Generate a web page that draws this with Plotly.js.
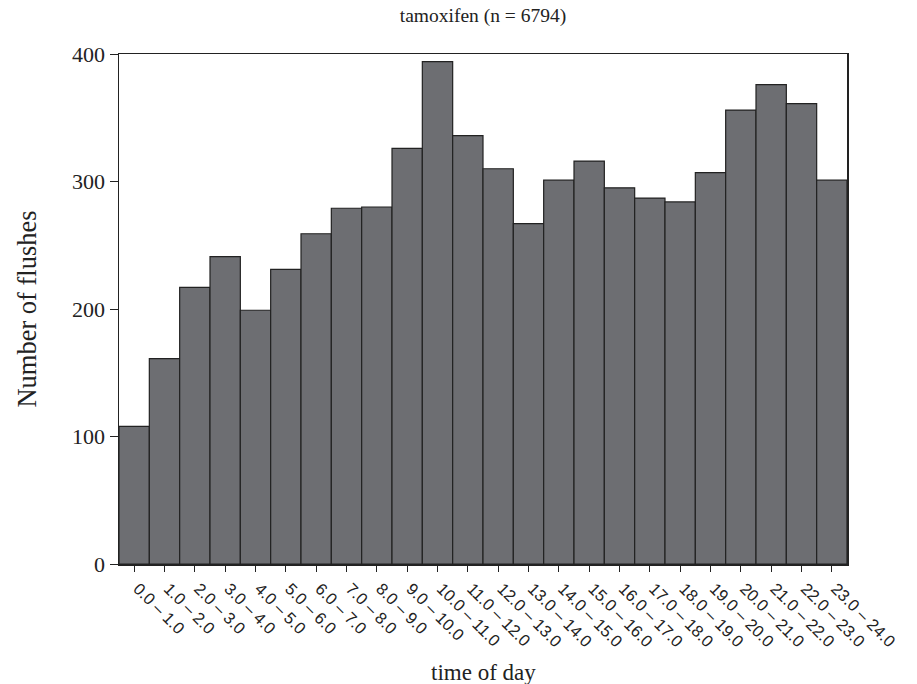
<!DOCTYPE html>
<html>
<head>
<meta charset="utf-8">
<script src="https://cdn.plot.ly/plotly-3.0.1.min.js"></script>
<style>html,body{margin:0;padding:0;background:#fff;}#chart{width:917px;height:684px;}</style>
</head>
<body>
<div id="chart"></div>
<script>
var categories = ["0.0 – 1.0","1.0 – 2.0","2.0 – 3.0","3.0 – 4.0","4.0 – 5.0","5.0 – 6.0","6.0 – 7.0","7.0 – 8.0","8.0 – 9.0","9.0 – 10.0","10.0 – 11.0","11.0 – 12.0","12.0 – 13.0","13.0 – 14.0","14.0 – 15.0","15.0 – 16.0","16.0 – 17.0","17.0 – 18.0","18.0 – 19.0","19.0 – 20.0","20.0 – 21.0","21.0 – 22.0","22.0 – 23.0","23.0 – 24.0"];
var flushes = [108,161,217,241,199,231,259,279,280,326,394,336,310,267,301,316,295,287,284,307,356,376,361,301];
var yTicks = [0,100,200,300,400];

var trace = {
  type: 'bar',
  x: categories,
  y: flushes,
  marker: {color: '#6d6e72', line: {color: '#222222', width: 1.2}},
  hoverinfo: 'none'
};

var layout = {
  width: 917, height: 684,
  margin: {l: 119, r: 70, t: 54, b: 120},
  paper_bgcolor: '#ffffff', plot_bgcolor: '#ffffff',
  bargap: 0,
  showlegend: false,
  title: {text: 'tamoxifen (n = 6794)', font: {family: 'Liberation Serif', size: 19.5, color: '#222'}, xref: 'paper', x: 0.5, xanchor: 'center', y: 0.978, yanchor: 'middle'},
  xaxis: {
    type: 'category',
    range: [-0.5, 23.5],
    tickangle: 45,
    ticks: 'outside', ticklen: 6, tickcolor: '#222', tickwidth: 1,
    ticklabelshift: 4, ticklabelstandoff: 1,
    showline: true, linecolor: '#222', linewidth: 1.5, mirror: true,
    showgrid: false, zeroline: false,
    tickfont: {family: 'Liberation Sans', size: 16.5, color: '#222'}
  },
  yaxis: {
    range: [0, 400],
    tickvals: yTicks,
    ticktext: yTicks.map(String),
    ticks: 'outside', ticklen: 8, tickcolor: '#222', tickwidth: 1,
    showline: true, linecolor: '#222', linewidth: 1.5, mirror: true,
    showgrid: false, zeroline: false,
    tickfont: {family: 'Liberation Serif', size: 22, color: '#222'},
    title: {text: 'Number of flushes', font: {family: 'Liberation Serif', size: 26.5, color: '#222'}, standoff: 28}
  },
  annotations: [{
    text: 'time of day', xref: 'paper', yref: 'paper', x: 0.5, y: -0.2118,
    xanchor: 'center', yanchor: 'middle', showarrow: false,
    font: {family: 'Liberation Serif', size: 23, color: '#222'}
  }]
};

Plotly.newPlot('chart', [trace], layout, {displayModeBar: false, staticPlot: true});
</script>
</body>
</html>
